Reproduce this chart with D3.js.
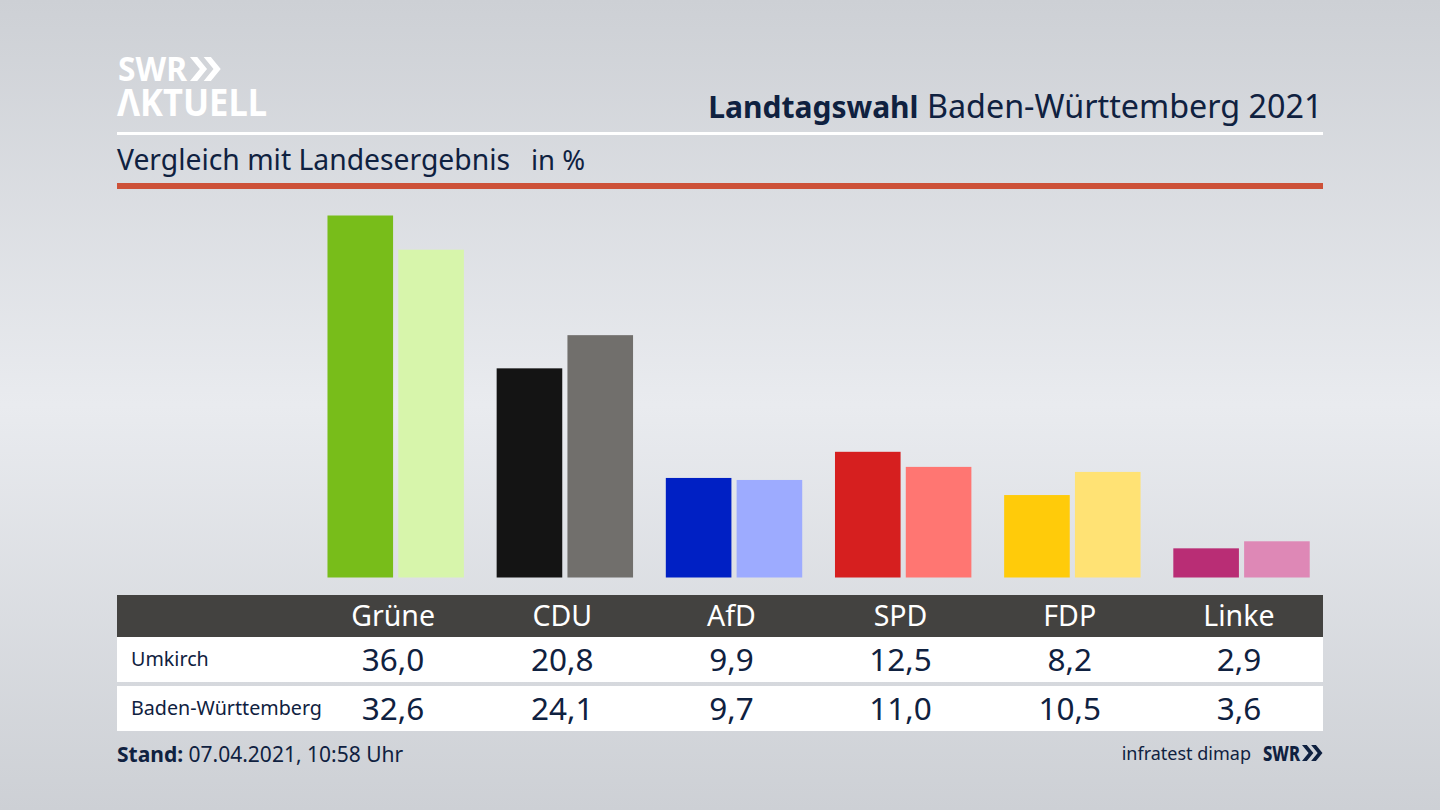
<!DOCTYPE html>
<html lang="de">
<head>
<meta charset="utf-8">
<title>Landtagswahl Baden-Württemberg 2021</title>
<script src="https://cdn.jsdelivr.net/npm/d3@7"></script>
<style>
html, body { margin: 0; padding: 0; overflow: hidden; }
svg { display: block; }
text { font-family: "Noto Sans", sans-serif; fill: #0f2140; }
</style>
</head>
<body>
<svg id="chart" width="1440" height="810"></svg>
<script>
const categories = ['Grüne', 'CDU', 'AfD', 'SPD', 'FDP', 'Linke'];
const localValues = [36.0, 20.8, 9.9, 12.5, 8.2, 2.9];
const stateValues = [32.6, 24.1, 9.7, 11.0, 10.5, 3.6];
const localColors = ['#78bd1a', '#141414', '#0020c4', '#d61f1f', '#ffcb0a', '#b92d75'];
const stateColors = ['#d7f5ab', '#716f6c', '#9dabff', '#ff7672', '#ffe274', '#de88b6'];
const rowNames = ['Umkirch', 'Baden-Württemberg'];

const formatValue = x => x.toFixed(1).replace('.', ',');

const svg = d3.select('#chart');
const defs = svg.append('defs');

const bg = defs.append('linearGradient').attr('id', 'bg').attr('x1', 0).attr('x2', 0).attr('y1', 0).attr('y2', 1);
bg.append('stop').attr('offset', '0%').attr('stop-color', '#cdd0d5');
bg.append('stop').attr('offset', '50%').attr('stop-color', '#e9ebef');
bg.append('stop').attr('offset', '100%').attr('stop-color', '#cdd0d5');

svg.append('rect').attr('width', 1440).attr('height', 810).attr('fill', 'url(#bg)');

// Scales
const x = d3.scaleBand().domain(categories).range([308.5, 1323.5]).padding(0);
const y = d3.scaleLinear().domain([0, 36]).range([577.5, 215.5]);
const center = d => x(d) + x.bandwidth() / 2;
const barWidth = 65.6;

// Header
function chevrons(g, px, py, h, color) {
    const w = h * 0.62;
    const t = h * 0.3;
    [0, w * 0.92].forEach(dx => {
        g.append('path')
            .attr('d', `M${px + dx},${py} h${t} L${px + dx + w + t * 0.3},${py + h / 2} L${px + dx + t},${py + h} h${-t} L${px + dx + w - t * 0.7},${py + h / 2} Z`)
            .attr('fill', color);
    });
}

const logo = svg.append('g');
logo.append('text').attr('x', 118).attr('y', 81).attr('font-size', 33.5).attr('font-weight', 700)
    .style('fill', '#fff').attr('textLength', 69).attr('lengthAdjust', 'spacingAndGlyphs').text('SWR');
chevrons(logo, 190, 57, 24, '#fff');
logo.append('text').attr('x', 117).attr('y', 115.5).attr('font-size', 38).attr('font-weight', 700)
    .style('fill', '#fff').attr('textLength', 150).attr('lengthAdjust', 'spacingAndGlyphs').text('ΛKTUELL');

const title = svg.append('text').attr('x', 1322.5).attr('y', 118).attr('text-anchor', 'end');
title.append('tspan').attr('font-weight', 700).attr('font-size', 30).text('Landtagswahl');
title.append('tspan').attr('font-size', 32.3).text(' Baden-Württemberg 2021');

svg.append('rect').attr('x', 117).attr('y', 132).attr('width', 1206).attr('height', 3).attr('fill', '#fff');
svg.append('text').attr('x', 117).attr('y', 170).attr('font-size', 28.3).text('Vergleich mit Landesergebnis');
svg.append('text').attr('x', 531).attr('y', 170).attr('font-size', 27.5).text('in %');
svg.append('rect').attr('x', 117).attr('y', 183).attr('width', 1206).attr('height', 6).attr('fill', '#cd5138');

// Bars
const plot = svg.append('g');
plot.selectAll('rect.local')
    .data(categories)
    .join('rect')
    .attr('class', 'local')
    .attr('x', d => center(d) - barWidth)
    .attr('y', (d, i) => y(localValues[i]))
    .attr('width', barWidth)
    .attr('height', (d, i) => y(0) - y(localValues[i]))
    .attr('fill', (d, i) => localColors[i]);
plot.selectAll('rect.state')
    .data(categories)
    .join('rect')
    .attr('class', 'state')
    .attr('x', d => center(d) + 5.2)
    .attr('y', (d, i) => y(stateValues[i]))
    .attr('width', barWidth)
    .attr('height', (d, i) => y(0) - y(stateValues[i]))
    .attr('fill', (d, i) => stateColors[i]);

// Table
svg.append('rect').attr('x', 117).attr('y', 595).attr('width', 1206).attr('height', 42).attr('fill', '#434240');
svg.append('rect').attr('x', 117).attr('y', 637).attr('width', 1206).attr('height', 45).attr('fill', '#fff');
svg.append('rect').attr('x', 117).attr('y', 686).attr('width', 1206).attr('height', 45).attr('fill', '#fff');

svg.append('g').selectAll('text')
    .data(categories)
    .join('text')
    .attr('x', d => center(d))
    .attr('y', 625.5)
    .attr('text-anchor', 'middle')
    .attr('font-size', 28.5)
    .style('fill', '#fff')
    .text(d => d);

[localValues, stateValues].forEach((values, row) => {
    const baseline = row === 0 ? 671 : 720;
    svg.append('text').attr('x', 131).attr('y', baseline - 5).attr('font-size', 19.7).text(rowNames[row]);
    svg.append('g').selectAll('text')
        .data(values)
        .join('text')
        .attr('x', (d, i) => center(categories[i]))
        .attr('y', baseline)
        .attr('text-anchor', 'middle')
        .attr('font-size', 31.5)
        .text(formatValue);
});

// Footer
const stand = svg.append('text').attr('x', 117).attr('y', 762).attr('font-size', 21);
stand.append('tspan').attr('font-weight', 700).text('Stand:');
stand.append('tspan').text(' 07.04.2021, 10:58 Uhr');

svg.append('text').attr('x', 1251).attr('y', 760).attr('text-anchor', 'end').attr('font-size', 18).text('infratest dimap');
svg.append('text').attr('x', 1263).attr('y', 761).attr('font-size', 21).attr('font-weight', 800)
    .attr('textLength', 37).attr('lengthAdjust', 'spacingAndGlyphs').text('SWR');
chevrons(svg.append('g'), 1302, 745, 16, '#0f2140');
</script>
</body>
</html>
